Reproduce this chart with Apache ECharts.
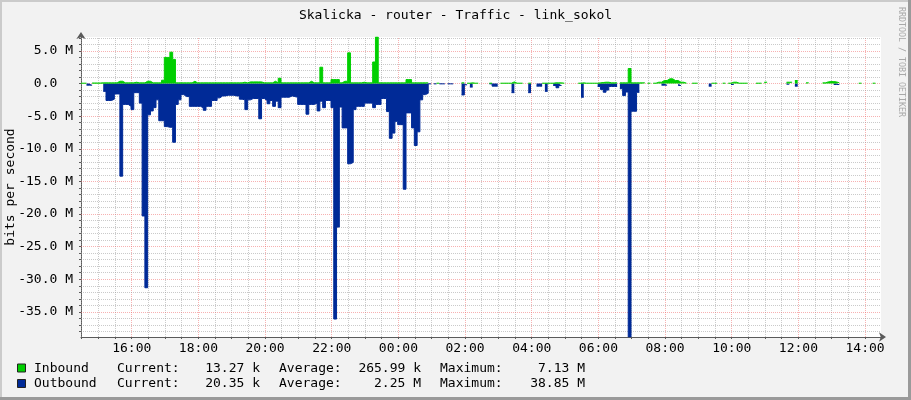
<!DOCTYPE html>
<html><head><meta charset="utf-8">
<script src="https://cdn.jsdelivr.net/npm/echarts@6/dist/echarts.min.js"></script>
<style>html,body{margin:0;padding:0;background:#f2f2f2;}#c{width:911px;height:400px;}</style>
</head><body><div id="c"></div>
<script>
// ---------------- data ----------------
const chartTitle = 'Skalicka - router - Traffic - link_sokol';
const yAxisName = 'bits per second';
const watermark = 'RRDTOOL / TOBI OETIKER';
const startTime = '14:28:40';          // left edge of the graph
const spanMinutes = 1440;              // 24 h shown
const stepMinutes = 5;                 // one sample every 5 minutes
const xTickLabels = ['16:00','18:00','20:00','22:00','00:00','02:00','04:00','06:00','08:00','10:00','12:00','14:00'];
const yTickValues = [5, 0, -5, -10, -15, -20, -25, -30, -35];   // M
const yMin = -38.85, yMax = 7.13;                              // M

// Inbound, Mbit/s per 5-min sample (null = no data), one row per hour
const inbound = [
  0.05,0.05,null,null,0.08,0.08,0.08,0.1,0.1,0.1,0.1,0.1,
  0.1,0.35,0.35,0.1,0.1,0.1,0.1,0.2,0.1,0.1,0.1,0.35,
  0.35,0.1,0.1,0.1,0.1,0.5,4.0,4.0,4.8,3.7,0.1,0.1,
  0.1,0.1,0.1,0.1,0.35,0.1,0.1,0.1,0.1,0.1,0.1,0.1,
  0.1,0.1,0.1,0.1,0.1,0.1,0.1,0.1,0.1,0.1,0.2,0.1,
  0.25,0.25,0.25,0.25,0.25,0.1,0.1,0.1,0.1,0.35,0.1,0.8,
  0.1,0.1,0.1,0.1,0.1,0.1,0.1,0.1,0.1,0.1,0.35,0.1,
  0.1,0.1,2.5,0.1,0.1,0.1,0.6,0.6,0.6,0.1,0.35,0.35,
  4.7,0.1,0.1,0.1,0.1,0.2,0.1,0.1,0.1,3.3,7.13,0.1,
  0.1,0.1,0.1,0.1,0.1,0.1,0.1,0.1,0.1,0.6,0.6,0.1,
  0.1,0.1,0.1,0.1,0.1,null,null,null,0.05,null,null,null,
  null,null,null,null,null,0.1,null,0.05,0.1,0.05,0.05,null,
  null,null,null,0.05,null,null,null,0.05,0.05,0.05,0.05,0.25,
  0.05,0.05,0.05,null,null,0.05,null,null,null,null,0.05,0.05,
  0.05,0.05,0.1,0.1,0.1,0.05,null,null,null,null,null,0.05,
  0.1,0.05,0.05,0.05,0.05,0.05,0.1,0.15,0.2,0.2,0.1,0.1,
  0.1,null,0.1,0.1,0.1,2.3,0.1,0.1,0.1,0.1,0.1,null,
  0.05,null,0.05,0.2,0.2,0.46,0.46,0.72,0.72,0.46,0.46,0.2,
  0.2,0.05,null,null,0.05,0.05,null,null,null,null,null,0.05,
  0.05,null,null,0.05,null,0.05,0.2,0.2,0.05,0.05,0.05,0.05,
  null,null,null,0.05,0.05,null,0.2,null,null,null,null,null,
  null,null,0.2,0.2,null,0.46,null,null,null,0.1,null,null,
  null,null,null,0.1,0.25,0.3,0.3,0.25,0.1,null,null,null,
  null,null,null,null,0.05,null,null,null,null,0.05,null,null
];
// Outbound, Mbit/s per 5-min sample (drawn below zero)
const outbound = [
  null,null,0.25,0.25,null,null,null,null,1.2,2.6,2.6,2.4,
  1.6,1.6,14.2,3.2,3.2,3.5,4.0,1.4,1.4,3.0,20.3,31.3,
  4.8,4.2,3.7,2.5,5.7,5.7,6.6,6.7,6.7,9.0,3.2,2.5,
  1.7,2.0,2.0,3.5,3.5,3.5,3.5,3.7,4.1,3.5,3.5,2.6,
  2.6,2.2,1.9,1.9,1.8,1.8,1.8,1.9,1.9,2.4,2.5,4.0,
  2.5,2.3,2.3,2.3,5.4,2.3,2.6,3.1,2.6,3.5,2.7,3.7,
  2.1,2.1,2.1,1.9,2.0,2.1,3.2,3.2,3.2,4.7,3.2,3.2,
  3.0,4.2,2.7,3.7,2.6,2.6,3.7,36.1,22.0,3.6,6.8,6.8,
  12.3,12.1,4.0,3.5,3.5,3.5,3.0,3.0,3.0,3.7,3.2,3.2,
  2.3,2.3,4.3,8.4,7.6,5.8,6.3,6.3,16.2,4.5,4.5,6.8,
  9.5,7.4,2.5,1.7,1.5,0.05,null,0.05,null,0.05,0.05,null,
  0.05,0.05,null,null,null,1.75,0.2,null,0.55,null,null,null,
  null,null,null,0.05,0.4,0.4,null,null,null,null,null,1.4,
  null,null,null,null,null,1.4,null,null,0.4,0.4,null,1.2,
  null,null,0.3,0.65,0.3,null,null,null,null,null,null,null,
  2.1,null,null,null,null,null,0.45,0.9,1.33,1.0,0.45,0.45,
  0.45,null,0.8,1.85,1.3,38.85,4.25,4.25,1.35,null,null,null,
  null,null,null,null,null,0.25,0.25,null,null,null,null,0.3,
  null,null,null,null,null,null,null,null,null,null,0.4,null,
  null,null,null,null,null,null,0.15,null,null,null,null,null,
  null,null,null,null,null,null,null,null,null,null,null,null,
  null,null,0.1,null,null,0.4,null,null,null,null,null,null,
  null,null,null,null,null,null,null,0.15,0.15,null,null,null,
  null,null,null,null,null,null,null,null,null,null,null,null
];
const seriesNames = ['Inbound', 'Outbound'];
const seriesColors = ['#00CF00', '#002A97'];
const statCurrent = ['13.27 k', '20.35 k'];
const statAverage = ['265.99 k', '2.25 M'];
const statMaximum = ['7.13 M', '38.85 M'];

// ---------------- build ----------------
function toMin(s) { const p = s.split(':').map(Number); return p[0]*60 + p[1] + (p[2]||0)/60; }
const T0 = toMin(startTime), T1 = T0 + spanMinutes;
function tickMin(s) { let m = toMin(s); if (m < T0) m += 1440; return m; }
const xTicks = xTickLabels.map(tickMin);

function stepData(values, sign) {
  const out = [];
  values.forEach((v, i) => {
    const a = T0 + i*stepMinutes, b = a + stepMinutes;
    if (v == null) { out.push([a, '-']); return; }
    out.push([a, sign*v], [b, sign*v]);
  });
  return out;
}

const FONT = '"DejaVu Sans Mono", monospace';
const MAJOR = {color:'rgba(240,100,100,0.5)', type:[1,1], width:1};
const MINOR = {color:'rgba(150,150,150,0.5)', type:[1,1], width:1};
const gridLines = [];
const minorX = [];
for (let m = Math.ceil(T0/30)*30; m < T1; m += 30) minorX.push(m);
minorX.forEach(m => {
  const major = xTicks.some(t => Math.abs(t-m) < 1e-6);
  gridLines.push({xAxis: m, lineStyle: major ? MAJOR : MINOR});
});
const yMinor = [];
for (let v = Math.ceil(yMin); v <= yMax; v++) yMinor.push(v);
yMinor.forEach(v => {
  gridLines.push({yAxis: v, lineStyle: v % 5 === 0 ? MAJOR : MINOR});
});

function fmtTime(v) {
  const m = Math.round(v) % 1440;
  const h = Math.floor(m/60), mm = m % 60;
  return String(h).padStart(2,'0') + ':' + String(mm).padStart(2,'0');
}

const legendX = {name: 34, cur: 117, curVal: 260, avg: 279, avgVal: 421, max: 440, maxVal: 585};
const rowY = [368.5, 384];
const graphics = [
  {type:'rect', shape:{x:0,y:0,width:911,height:2}, style:{fill:'#cbcbcb'}, silent:true},
  {type:'rect', shape:{x:0,y:0,width:2,height:400}, style:{fill:'#cbcbcb'}, silent:true},
  {type:'rect', shape:{x:908,y:0,width:3,height:400}, style:{fill:'#9a9a9a'}, silent:true},
  {type:'rect', shape:{x:0,y:397,width:911,height:3}, style:{fill:'#9a9a9a'}, silent:true},
  {type:'text', x:901, y:7, rotation:-Math.PI/2, silent:true,
   style:{text: watermark, fill:'#a8a8a8', font:'8.3px ' + FONT, align:'left', verticalAlign:'middle'}}
];
seriesNames.forEach((n, i) => {
  const y = rowY[i];
  const T = (text, x, align) => ({type:'text', x, y, silent:true,
    style:{text, fill:'#000', font:'13px ' + FONT, align, verticalAlign:'middle'}});
  graphics.push({type:'rect', shape:{x:17.5, y:y-4.5, width:8, height:8}, style:{fill:seriesColors[i], stroke:'#222', lineWidth:1}, silent:true});
  graphics.push(T(n, legendX.name, 'left'));
  graphics.push(T('Current:', legendX.cur, 'left'));
  graphics.push(T(statCurrent[i], legendX.curVal, 'right'));
  graphics.push(T('Average:', legendX.avg, 'left'));
  graphics.push(T(statAverage[i], legendX.avgVal, 'right'));
  graphics.push(T('Maximum:', legendX.max, 'left'));
  graphics.push(T(statMaximum[i], legendX.maxVal, 'right'));
});

const chart = echarts.init(document.getElementById('c'), null, {renderer:'canvas'});
chart.setOption({
  animation: false,
  backgroundColor: '#f2f2f2',
  title: {text: chartTitle, left: 'center', top: 4,
    textStyle: {fontFamily: FONT, fontSize: 13, fontWeight: 'normal', color: '#000'}},
  grid: {left: 81, top: 37, width: 800, height: 300, show: true, backgroundColor: '#fff', borderWidth: 0,
    containLabel: false, outerBoundsMode: 'none'},
  xAxis: {
    type: 'value', min: T0, max: T1,
    splitLine: {show: false},
    axisLine: {show: true, onZero: false, lineStyle: {color: '#5a5a5a', width: 1},
      symbol: ['none', 'arrow'], symbolSize: [7, 7], symbolOffset: [0, 5]},
    axisTick: {show: true, length: 2, customValues: minorX, lineStyle: {color: '#5a5a5a'}},
    axisLabel: {customValues: xTicks, formatter: v => fmtTime(v), margin: 5,
      fontFamily: FONT, fontSize: 13, color: '#000'}
  },
  yAxis: {
    type: 'value', min: yMin, max: yMax,
    name: yAxisName, nameLocation: 'middle', nameRotate: 90, nameGap: 64, nameMoveOverlap: false,
    nameTextStyle: {fontFamily: FONT, fontSize: 13, color: '#000'},
    splitLine: {show: false},
    axisLine: {show: true, lineStyle: {color: '#5a5a5a', width: 1},
      symbol: ['none', 'arrow'], symbolSize: [7, 7], symbolOffset: [0, 5]},
    axisTick: {show: true, length: 2, customValues: yMinor, lineStyle: {color: '#5a5a5a'}},
    axisLabel: {customValues: yTickValues, margin: 8, fontFamily: FONT, fontSize: 13, color: '#000',
      formatter: v => Math.abs(v) < 1e-9 ? '0.0  ' : v.toFixed(1) + ' M'}
  },
  series: [
    {name: 'grid', type: 'line', data: [], z: 1, silent: true,
     markLine: {silent: true, z: 1, symbol: ['none','none'], label: {show: false}, animation: false, data: gridLines}},
    {name: seriesNames[1], type: 'line', data: stepData(outbound, -1), showSymbol: false, symbol: 'none',
     connectNulls: false, z: 10, lineStyle: {width: 1, color: seriesColors[1]},
     areaStyle: {color: seriesColors[1], opacity: 1}, itemStyle: {color: seriesColors[1]}},
    {name: seriesNames[0], type: 'line', data: stepData(inbound, 1), showSymbol: false, symbol: 'none',
     connectNulls: false, z: 11, lineStyle: {width: 1, color: seriesColors[0]},
     areaStyle: {color: seriesColors[0], opacity: 1}, itemStyle: {color: seriesColors[0]}}
  ],
  graphic: graphics
});
</script></body></html>
